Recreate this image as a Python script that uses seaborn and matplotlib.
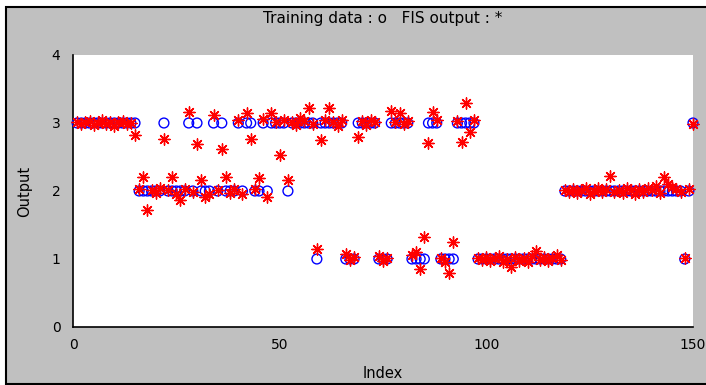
import matplotlib
matplotlib.use("Agg")
import matplotlib.pyplot as plt
import seaborn as sns
import pandas as pd
from matplotlib.patches import Rectangle

# Target classes of the training data (index 1..150)
training = [
    3, 3, 3, 3, 3, 3, 3, 3, 3, 3,
    3, 3, 3, 3, 3, 2, 2, 2, 2, 2,
    2, 3, 2, 2, 2, 2, 2, 3, 2, 3,
    2, 2, 2, 3, 2, 3, 2, 2, 2, 3,
    2, 3, 3, 2, 2, 3, 2, 3, 3, 3,
    3, 2, 3, 3, 3, 3, 3, 3, 1, 3,
    3, 3, 3, 3, 3, 1, 1, 1, 3, 3,
    3, 3, 3, 1, 1, 1, 3, 3, 3, 3,
    3, 1, 1, 1, 1, 3, 3, 3, 1, 1,
    1, 1, 3, 3, 3, 3, 3, 1, 1, 1,
    1, 1, 1, 1, 1, 1, 1, 1, 1, 1,
    1, 1, 1, 1, 1, 1, 1, 1, 2, 2,
    2, 2, 2, 2, 2, 2, 2, 2, 2, 2,
    2, 2, 2, 2, 2, 2, 2, 2, 2, 2,
    2, 2, 2, 2, 2, 2, 2, 1, 2, 3,
]

# FIS output for each index
fis_output = [
    3.02, 2.98, 3.01, 3.03, 2.97, 3.00, 3.04, 2.99, 3.02, 2.96,
    3.01, 3.03, 2.98, 3.00, 2.82, 2.03, 2.20, 1.72, 2.02, 1.97,
    2.04, 2.76, 2.01, 2.20, 1.96, 1.87, 2.03, 3.16, 1.98, 2.69,
    2.16, 1.91, 1.95, 3.12, 2.02, 2.62, 2.20, 1.97, 2.03, 3.04,
    1.95, 3.15, 2.76, 2.03, 2.19, 3.06, 1.91, 3.15, 3.02, 2.53,
    3.04, 2.16, 3.01, 2.97, 3.08, 3.03, 3.22, 2.98, 1.15, 2.75,
    3.05, 3.22, 3.02, 2.96, 3.04, 1.08, 0.98, 1.03, 2.80, 3.03,
    2.97, 3.05, 3.01, 1.04, 0.97, 1.02, 3.18, 3.02, 3.14, 2.98,
    3.03, 1.06, 1.10, 0.85, 1.33, 2.70, 3.16, 3.04, 1.02, 0.96,
    0.80, 1.25, 3.03, 2.72, 3.30, 2.87, 3.05, 1.02, 0.98, 1.03,
    0.97, 1.01, 1.04, 0.96, 1.00, 0.88, 1.03, 0.97, 1.02, 0.95,
    1.05, 1.12, 0.99, 1.03, 0.97, 1.01, 1.06, 0.98, 2.02, 1.98,
    2.03, 1.97, 2.01, 2.04, 1.96, 2.00, 2.05, 1.99, 2.03, 2.22,
    1.98, 2.02, 1.97, 2.04, 2.01, 1.96, 2.03, 1.99, 2.05, 2.02,
    2.08, 1.97, 2.20, 2.10, 2.06, 2.03, 1.98, 1.02, 2.03, 2.99,
]

x_ticks = [0, 50, 100, 150]
y_ticks = [0, 1, 2, 3, 4]
title_text = "Training data : o   FIS output : *"
x_label = "Index"
y_label = "Output"

index = list(range(1, len(training) + 1))
df = pd.DataFrame({"Index": index, "Training": training, "FIS": fis_output})

sns.set_style("white")
plt.rcParams["font.family"] = ["DejaVu Sans"]

W, H = 706, 385
fig = plt.figure(figsize=(W / 100, H / 100), dpi=100)
fig.patch.set_facecolor("white")
bg = Rectangle((6 / W, 1.5 / H), (W - 6 + 10) / W, (H - 7 - 1.5) / H,
               transform=fig.transFigure, facecolor="#c0c0c0",
               edgecolor="black", linewidth=1.5, zorder=-10)
fig.patches.append(bg)

ax = fig.add_axes([73 / W, 58 / H, 620 / W, 272 / H])
ax.set_facecolor("white")

sns.scatterplot(data=df, x="Index", y="Training", marker="o", s=50,
                facecolors="none", edgecolor="blue", linewidth=1.0,
                ax=ax, clip_on=False, legend=False, zorder=3)
sns.scatterplot(data=df, x="Index", y="FIS", marker=(8, 2, 0), s=65,
                color="red", edgecolor="red", linewidth=1.0,
                ax=ax, clip_on=False, legend=False, zorder=4)

ax.set_xlim(0, 150)
ax.set_ylim(0, 4)
ax.set_xticks(x_ticks)
ax.set_yticks(y_ticks)
ax.set_xticklabels([str(t) for t in x_ticks], fontsize=10)
ax.set_yticklabels([str(t) for t in y_ticks], fontsize=10)
ax.tick_params(direction="in", length=5, width=1, color="black",
               labelcolor="black")
ax.tick_params(axis="x", pad=8)
ax.tick_params(axis="y", pad=9)

for side in ["top", "right"]:
    ax.spines[side].set_visible(False)
for side in ["left", "bottom"]:
    ax.spines[side].set_visible(True)
    ax.spines[side].set_color("black")
    ax.spines[side].set_linewidth(1.2)

ax.set_xlabel(x_label, fontsize=10.5, color="black")
ax.set_ylabel(y_label, fontsize=10.5, color="black")
ax.xaxis.set_label_coords(0.5, -0.143)
ax.yaxis.set_label_coords(-0.066, 0.5)

fig.text(383 / W, 1 - 18 / H, title_text, ha="center", va="center",
         fontsize=11, color="black")

fig.savefig("out.png", dpi=100, facecolor=fig.get_facecolor())
